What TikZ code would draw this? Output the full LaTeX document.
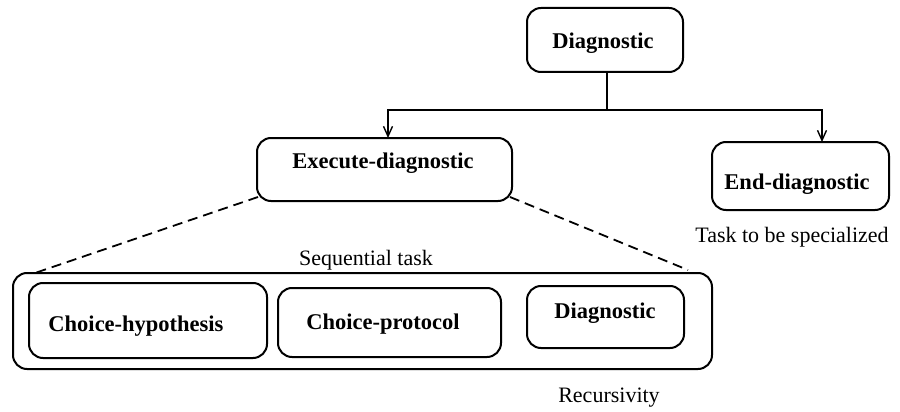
\documentclass[tikz,border=0pt]{standalone}
\usepackage{fontspec}
\setmainfont{Liberation Serif}
\usetikzlibrary{arrows.meta}
\begin{document}
\begin{tikzpicture}[x=1pt,y=-1pt,
  box/.style={draw, line width=2pt, rounded corners=14pt, inner sep=0pt, outer sep=0pt},
  bold/.style={font=\fontsize{22.5}{27}\selectfont\bfseries, inner sep=0pt},
  plain/.style={font=\fontsize{22}{26}\selectfont, inner sep=0pt},
  link/.style={line width=1.4pt, -{Straight Barb[length=10pt,width=9pt,line width=1.4pt]}},
  dashlink/.style={line width=1.8pt, dash pattern=on 10pt off 6pt}]
\useasboundingbox (0,0) rectangle (900,412);

% task boxes
\node[box, minimum width=156pt, minimum height=64pt] (top) at (605,40) {};
\node[box, minimum width=255pt, minimum height=63pt] (exec) at (384.5,169.5) {};
\node[box, minimum width=177pt, minimum height=68pt] (end) at (800.5,176) {};

% sequential decomposition
\node[box, minimum width=699pt, minimum height=96pt] (seq) at (362.5,321) {};
\node[box, minimum width=238pt, minimum height=75pt] (hyp) at (148,320.5) {};
\node[box, minimum width=223pt, minimum height=69pt] (prot) at (389.5,322.5) {};
\node[box, minimum width=157pt, minimum height=62pt] (rec) at (605.5,317) {};

% box labels
\node[bold] (topt) at (603,43) {Diagnostic};
\node[bold] (exect) at (383,163) {Execute-diagnostic};
\node[bold] (endt) at (797,184) {End-diagnostic};
\node[bold] (hypt) at (136,326) {Choice-hypothesis};
\node[bold] (prott) at (383,324) {Choice-protocol};
\node[bold] (rect) at (605,313) {Diagnostic};

% annotations
\node[plain] (seqt) at (366,260) {Sequential task};
\node[plain] (endn) at (792,237) {Task to be specialized};
\node[plain] (recn) at (609,398) {Recursivity};

% alternative branches
\coordinate (split) at (607,110);
\draw[line width=1.4pt] (top.south -| split) -- (split);
\draw[link] (split) -| ([xshift=3.5pt]exec.north);
\draw[link] (split) -| ([xshift=21.5pt]end.north);

% expansion of the executed task
\draw[dashlink] ([shift={(1,-4)}]exec.south west) -- ([shift={(22,0)}]seq.north west);
\draw[dashlink] ([shift={(-2,-4)}]exec.south east) -- ([shift={(-24,-3)}]seq.north east);
\end{tikzpicture}
\end{document}
